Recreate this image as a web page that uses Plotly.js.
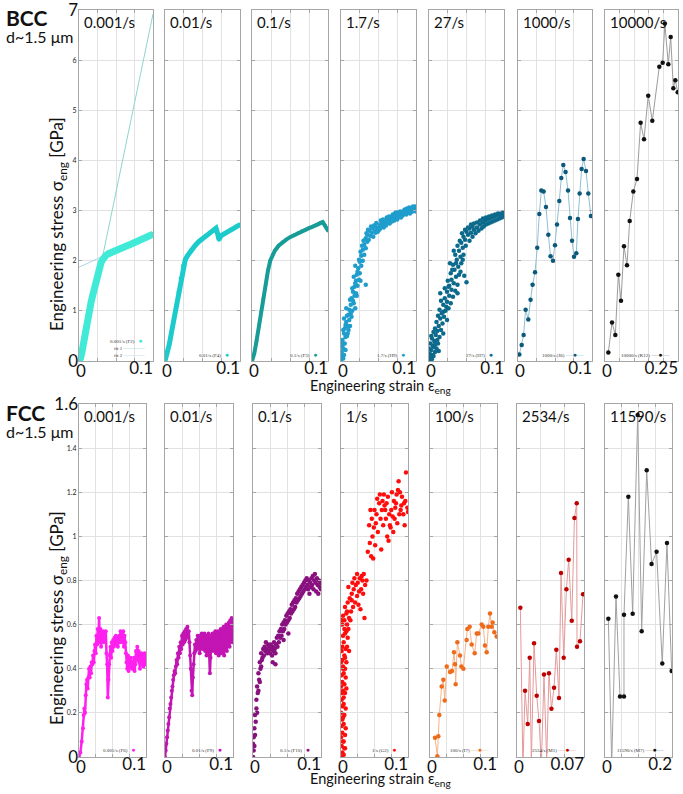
<!DOCTYPE html>
<html><head><meta charset="utf-8">
<script src="https://cdn.plot.ly/plotly-3.0.1.min.js"></script>
<style>html,body{margin:0;padding:0;background:#fff}#chart{width:683px;height:794px}</style>
</head><body><div id="chart"></div>
<script>
// ---------------- labels ----------------
const topRates = ['0.001/s','0.01/s','0.1/s','1.7/s','27/s','1000/s','10000/s'];
const topSamples = ['0.001/s (F2)','0.01/s (F4)','0.1/s (F3)','1.7/s (H9)','27/s (H7)','1000/s (J6)','10000/s (K12)'];
const botRates = ['0.001/s','0.01/s','0.1/s','1/s','100/s','2534/s','11590/s'];
const botSamples = ['0.001/s (F6)','0.01/s (F9)','0.1/s (F10)','1/s (G2)','100/s (I7)','2534/s (M1)','11590/s (M7)'];
const fitLabels = ['fit 1','fit 2'];
const gridTenth = [0,0.025,0.05,0.075,0.1];
const gridQuarter = [0,0.05,0.1,0.15,0.2,0.25];
const gridSeven = [0,0.025,0.05,0.07];
const gridFifth = [0,0.05,0.1,0.15,0.2];
const topXGrid = [gridTenth,gridTenth,gridTenth,gridTenth,gridTenth,gridTenth,gridQuarter];
const botXGrid = [gridTenth,gridTenth,gridTenth,gridTenth,gridTenth,gridSeven,gridFifth];
const topXLabel = ['0.1','0.1','0.1','0.1','0.1','0.1','0.25'];
const botXLabel = ['0.1','0.1','0.1','0.1','0.1','0.07','0.2'];
const topYTicks = [0,1,2,3,4,5,6,7];
const topYText = ['','1','2','3','4','5','6',''];
const botYTicks = [0,0.2,0.4,0.6,0.8,1,1.2,1.4,1.6];
const botYText = ['','0.2','0.4','0.6','0.8','1','1.2','1.4',''];
const topYEnds = [0,7], topYEndText = ['0','7'];
const botYEnds = [0,1.6], botYEndText = ['0','1.6'];

// ---------------- BCC data ----------------
const bcc0001X = [0,0.002,0.004,0.006,0.008,0.010,0.012,0.014,0.016,0.018,0.020,0.022,0.024,0.026,0.028,0.030,0.032,0.034,0.036,0.040,0.045,0.050,0.055,0.060,0.065,0.070,0.075,0.080,0.085,0.090,0.095,0.100];
const bcc0001Y = [0,0.05,0.18,0.38,0.58,0.75,0.90,1.02,1.15,1.28,1.42,1.55,1.68,1.80,1.90,1.97,2.02,2.07,2.10,2.14,2.18,2.21,2.24,2.27,2.30,2.33,2.36,2.39,2.42,2.45,2.49,2.53];
const fit1X = [0.032,0.1];
const fit1Y = [2.09,6.92];
const fit2X = [0,0.06];
const fit2Y = [1.87,2.28];
const bcc001X = [0,0.003,0.006,0.009,0.012,0.015,0.018,0.021,0.024,0.027,0.030,0.035,0.040,0.045,0.050,0.055,0.060,0.065,0.068,0.070,0.072,0.075,0.080,0.085,0.090,0.095,0.100];
const bcc001Y = [0,0.15,0.35,0.60,0.85,1.10,1.38,1.65,1.90,2.02,2.10,2.22,2.30,2.38,2.44,2.50,2.55,2.60,2.65,2.55,2.42,2.50,2.55,2.60,2.63,2.68,2.72];
const bcc01X = [0,0.003,0.006,0.009,0.012,0.015,0.018,0.021,0.024,0.027,0.030,0.035,0.040,0.045,0.050,0.055,0.060,0.065,0.070,0.075,0.080,0.085,0.090,0.093,0.096,0.100];
const bcc01Y = [0,0.15,0.40,0.70,0.98,1.25,1.52,1.80,2.00,2.12,2.20,2.30,2.37,2.42,2.47,2.51,2.55,2.59,2.62,2.65,2.68,2.71,2.76,2.77,2.70,2.60];
const bcc1p7Pts = [[0.000,0.03],[0.002,0.10],[0.001,0.18],[0.004,0.12],[0.003,0.25],[0.000,0.30],[0.005,0.35],[0.002,0.42],[0.006,0.48],[0.004,0.55],[0.008,0.50],[0.005,0.65],[0.009,0.70],[0.007,0.78],[0.011,0.82],[0.008,0.90],[0.013,0.95],[0.011,1.02],[0.015,1.00],[0.013,1.12],[0.017,1.15],[0.014,1.25],[0.018,1.30],[0.016,1.38],[0.020,1.35],[0.018,1.48],[0.022,1.50],[0.020,1.60],[0.024,1.62],[0.021,1.72],[0.025,1.75],[0.023,1.85],[0.027,1.90],[0.025,1.98],[0.029,2.00],[0.027,2.10],[0.031,2.12],[0.029,2.22],[0.033,2.25],[0.031,2.32],[0.035,2.38],[0.033,2.45],[0.037,2.42],[0.035,2.52],[0.039,2.50],[0.038,2.60],[0.041,2.56],[0.043,2.48],[0.042,2.65],[0.045,2.60],[0.033,1.52],[0.019,1.05],[0.001,0.08],[0.003,0.05],[0.006,0.22],[0.002,0.32],[0.010,0.62],
[0.046,2.68],[0.048,2.62],[0.047,2.75],[0.050,2.66],[0.049,2.58],[0.052,2.72],[0.051,2.62],[0.054,2.70],[0.053,2.80],[0.056,2.68],[0.055,2.76],[0.058,2.74],[0.057,2.66],[0.060,2.80],[0.059,2.72],[0.062,2.78],[0.061,2.86],[0.064,2.76],[0.063,2.84],[0.066,2.82],[0.065,2.74],[0.068,2.88],[0.067,2.80],[0.070,2.84],[0.069,2.92],[0.072,2.86],[0.071,2.80],[0.074,2.90],[0.073,2.96],[0.076,2.88],[0.075,2.82],[0.078,2.94],[0.077,2.88],[0.080,2.92],[0.079,2.98],[0.082,2.90],[0.081,2.96],[0.084,3.00],[0.083,2.92],[0.086,2.96],[0.085,3.02],[0.088,2.98],[0.087,2.92],[0.090,3.02],[0.089,2.96],[0.092,3.00],[0.091,3.06],[0.094,2.98],[0.093,3.04],[0.096,3.04],[0.095,2.98],[0.098,3.06],[0.097,3.00],[0.100,3.02],[0.099,3.08],
[0.001,0.40],[0.003,0.62],[0.006,0.72],[0.004,0.85],[0.010,0.92],[0.007,1.05],[0.012,1.22],[0.015,1.45],[0.019,1.55],[0.017,1.68],[0.022,1.78],[0.019,1.90],[0.024,2.02],[0.028,2.30],[0.026,2.18],[0.030,2.40],[0.034,2.55],[0.036,2.62],[0.040,2.68],[0.044,2.70],[0.046,2.56],[0.052,2.64],[0.056,2.82],[0.060,2.70],[0.064,2.88],[0.068,2.78],[0.072,2.94],[0.076,2.96],[0.080,2.86],[0.084,2.94],[0.088,3.04],[0.092,2.94],[0.096,3.08],[0.100,2.98],[0.014,0.88],[0.009,0.55],[0.012,0.70],[0.016,1.20],[0.021,1.30],[0.026,1.60]];
const bcc27Pts = [[0.000,0.02],[0.002,0.08],[0.004,0.04],[0.001,0.15],[0.006,0.10],[0.003,0.22],[0.008,0.18],[0.005,0.30],[0.010,0.25],[0.002,0.35],[0.007,0.40],[0.012,0.35],[0.004,0.45],[0.009,0.52],[0.014,0.48],[0.011,0.60],[0.006,0.58],[0.016,0.62],[0.013,0.70],[0.018,0.75],[0.010,0.78],[0.015,0.85],[0.020,0.88],[0.024,0.82],[0.017,0.95],[0.022,1.00],[0.014,1.02],[0.026,1.05],[0.019,1.12],[0.024,1.18],[0.029,1.15],[0.021,1.25],[0.027,1.30],[0.032,1.28],[0.024,1.38],[0.030,1.42],[0.035,1.40],[0.027,1.50],[0.033,1.55],[0.038,1.52],[0.030,1.62],[0.036,1.68],[0.029,1.75],[0.040,1.72],[0.034,1.82],[0.039,1.88],[0.032,1.92],[0.043,1.95],[0.037,2.02],[0.042,2.08],[0.035,2.12],[0.046,2.12],[0.040,2.20],[0.045,2.26],[0.038,2.30],[0.049,2.30],[0.043,2.36],[0.048,2.42],[0.054,2.40],[0.046,2.48],[0.052,2.52],[0.058,2.48],[0.050,2.58],[0.056,2.56],[0.062,2.55],[0.054,2.64],[0.060,2.62],[0.066,2.60],[0.058,2.68],[0.064,2.66],[0.070,2.64],[0.068,2.72],[0.073,2.68],[0.072,2.76],[0.076,2.72],[0.075,2.80],[0.079,2.74],[0.078,2.82],[0.082,2.76],[0.081,2.84],[0.085,2.78],[0.084,2.86],[0.088,2.80],[0.087,2.88],[0.091,2.82],[0.090,2.90],[0.094,2.84],[0.093,2.92],[0.097,2.86],[0.096,2.94],[0.100,2.88],[0.099,2.96],[0.015,1.35],[0.050,1.57],[0.047,1.70],[0.019,0.55],[0.001,0.05],[0.005,0.12],[0.008,0.33],[0.003,0.10],
[0.003,0.50],[0.008,0.65],[0.012,0.90],[0.019,0.98],[0.016,1.20],[0.021,1.45],[0.025,1.60],[0.031,1.82],[0.028,1.95],[0.036,1.95],[0.033,2.20],[0.041,2.40],[0.044,2.55],[0.048,2.62],[0.052,2.66],[0.056,2.72],[0.060,2.74],[0.064,2.76],[0.068,2.80],[0.072,2.84],[0.076,2.86],[0.080,2.88],[0.084,2.90],[0.088,2.92],[0.092,2.94],[0.096,2.90],[0.100,2.95],[0.023,1.08],[0.038,1.35],[0.011,0.42],[0.007,0.28],[0.013,0.20],[0.000,0.25],[0.026,1.48],[0.042,1.78],[0.045,2.02]];
const bcc1000X = [0.0018,0.005,0.0076,0.0103,0.0139,0.017,0.0197,0.023,0.026,0.0288,0.0315,0.0346,0.0378,0.041,0.044,0.0473,0.050,0.0527,0.0558,0.0585,0.0612,0.0643,0.0676,0.0703,0.073,0.0757,0.0788,0.081,0.0833,0.086,0.0887,0.0919,0.095,0.0986];
const bcc1000Y = [0.13,0.32,0.52,1.02,0.83,1.22,1.52,1.77,2.26,2.93,3.40,3.38,3.07,2.52,2.09,2.00,2.31,2.72,3.19,3.65,3.91,3.77,3.40,2.85,2.40,2.08,2.15,2.83,3.34,3.83,4.03,3.79,3.34,2.89];
const bcc10000X = [0.0114,0.024,0.0354,0.0457,0.0548,0.065,0.0753,0.0845,0.097,0.1096,0.122,0.1336,0.148,0.162,0.186,0.1975,0.205,0.2168,0.225,0.234,0.2408,0.249];
const bcc10000Y = [0.17,0.77,0.52,1.72,1.20,2.29,1.91,2.79,3.38,3.63,4.75,4.42,5.29,4.79,5.87,5.95,6.73,5.92,6.46,5.44,5.60,5.36];

// ---------------- FCC data ----------------
const fcc0001Pts = [[0.000,0.00],[0.002,0.02],[0.004,0.07],[0.006,0.13],[0.007,0.19],[0.008,0.22],[0.009,0.20],[0.010,0.28],[0.011,0.33],[0.012,0.35],[0.013,0.31],[0.014,0.36],[0.015,0.40],[0.016,0.36],[0.017,0.41],[0.018,0.38],[0.019,0.43],[0.020,0.42],[0.021,0.46],[0.022,0.43],[0.023,0.48],[0.024,0.51],[0.025,0.47],[0.026,0.55],[0.027,0.51],[0.028,0.58],[0.029,0.54],[0.030,0.63],[0.031,0.52],[0.032,0.58],[0.033,0.50],[0.034,0.56],[0.035,0.53],[0.036,0.57],[0.037,0.52],[0.038,0.56],[0.039,0.54],[0.040,0.57],[0.041,0.47],[0.042,0.42],[0.043,0.27],[0.044,0.35],[0.045,0.42],[0.046,0.46],[0.047,0.50],[0.048,0.45],[0.049,0.52],[0.050,0.48],[0.051,0.53],[0.052,0.50],[0.053,0.54],[0.054,0.51],[0.055,0.55],[0.056,0.52],[0.057,0.54],[0.058,0.50],[0.059,0.53],[0.060,0.55],[0.061,0.52],[0.062,0.57],[0.063,0.53],[0.064,0.56],[0.065,0.52],[0.066,0.57],[0.067,0.50],[0.068,0.55],[0.069,0.52],[0.070,0.47],[0.071,0.43],[0.072,0.40],[0.073,0.46],[0.074,0.39],[0.075,0.44],[0.076,0.41],[0.077,0.45],[0.078,0.42],[0.079,0.40],[0.080,0.43],[0.081,0.40],[0.082,0.45],[0.083,0.39],[0.084,0.42],[0.085,0.48],[0.086,0.44],[0.087,0.50],[0.088,0.45],[0.089,0.48],[0.090,0.43],[0.091,0.40],[0.092,0.45],[0.093,0.47],[0.094,0.42],[0.095,0.46],[0.096,0.41],[0.097,0.44],[0.098,0.47],[0.099,0.42],[0.100,0.45]];
const fcc001Pts = [[0.000,0.00],[0.001,0.03],[0.002,0.06],[0.003,0.09],[0.004,0.12],[0.005,0.15],[0.006,0.18],[0.007,0.22],[0.008,0.24],[0.009,0.27],[0.010,0.30],[0.011,0.32],[0.012,0.35],[0.013,0.37],[0.014,0.39],[0.015,0.38],[0.016,0.41],[0.017,0.44],[0.018,0.42],[0.019,0.47],[0.020,0.45],[0.021,0.50],[0.022,0.47],[0.023,0.52],[0.024,0.49],[0.025,0.55],[0.026,0.51],[0.027,0.56],[0.028,0.52],[0.029,0.57],[0.030,0.53],[0.031,0.58],[0.032,0.54],[0.033,0.59],[0.034,0.55],[0.035,0.57],[0.036,0.52],[0.037,0.46],[0.038,0.40],[0.039,0.30],[0.040,0.28],[0.041,0.36],[0.042,0.42],[0.043,0.47],[0.044,0.51],[0.045,0.48],[0.046,0.53],[0.047,0.49],[0.048,0.55],[0.049,0.50],[0.050,0.54],[0.051,0.47],[0.052,0.55],[0.053,0.51],[0.054,0.56],[0.055,0.49],[0.056,0.55],[0.057,0.50],[0.058,0.56],[0.059,0.48],[0.060,0.55],[0.061,0.46],[0.062,0.54],[0.063,0.50],[0.064,0.56],[0.065,0.47],[0.066,0.38],[0.067,0.45],[0.068,0.55],[0.069,0.49],[0.070,0.56],[0.071,0.48],[0.072,0.55],[0.073,0.51],[0.074,0.57],[0.075,0.47],[0.076,0.55],[0.077,0.50],[0.078,0.57],[0.079,0.46],[0.080,0.56],[0.081,0.49],[0.082,0.58],[0.083,0.47],[0.084,0.57],[0.085,0.50],[0.086,0.59],[0.087,0.46],[0.088,0.58],[0.089,0.52],[0.090,0.60],[0.091,0.48],[0.092,0.59],[0.093,0.53],[0.094,0.61],[0.095,0.50],[0.096,0.62],[0.097,0.55],[0.098,0.63],[0.099,0.52],[0.100,0.60]];
const fcc01Pts = [[0.000,0.00],[0.001,0.03],[0.000,0.06],[0.002,0.05],[0.001,0.09],[0.003,0.10],[0.002,0.13],[0.004,0.16],[0.003,0.19],[0.005,0.22],[0.006,0.20],[0.005,0.26],[0.007,0.29],[0.006,0.32],[0.008,0.30],[0.009,0.35],[0.008,0.38],[0.010,0.34],[0.011,0.40],[0.010,0.43],[0.012,0.41],[0.013,0.44],[0.012,0.47],[0.014,0.45],[0.015,0.49],[0.016,0.46],[0.017,0.50],[0.018,0.48],[0.019,0.52],[0.020,0.49],[0.021,0.47],[0.022,0.51],[0.023,0.48],[0.024,0.50],[0.025,0.47],[0.026,0.51],[0.027,0.49],[0.028,0.46],[0.029,0.50],[0.030,0.48],[0.031,0.52],[0.032,0.49],[0.033,0.47],[0.034,0.51],[0.035,0.54],[0.036,0.50],[0.037,0.55],[0.038,0.52],[0.039,0.57],[0.040,0.54],[0.041,0.58],[0.042,0.55],[0.043,0.60],[0.044,0.57],[0.045,0.61],[0.046,0.58],[0.047,0.62],[0.048,0.60],[0.049,0.64],[0.050,0.61],[0.051,0.65],[0.052,0.62],[0.053,0.66],[0.054,0.63],[0.055,0.67],[0.056,0.65],[0.057,0.69],[0.058,0.66],[0.059,0.70],[0.060,0.67],[0.061,0.71],[0.062,0.68],[0.063,0.72],[0.064,0.70],[0.065,0.74],[0.066,0.71],[0.067,0.75],[0.068,0.72],[0.069,0.76],[0.070,0.73],[0.071,0.77],[0.072,0.74],[0.073,0.78],[0.074,0.75],[0.075,0.79],[0.076,0.76],[0.077,0.80],[0.078,0.77],[0.079,0.81],[0.080,0.78],[0.081,0.76],[0.082,0.80],[0.083,0.74],[0.084,0.79],[0.085,0.77],[0.086,0.81],[0.087,0.78],[0.088,0.82],[0.089,0.76],[0.090,0.80],[0.091,0.83],[0.092,0.79],[0.093,0.75],[0.094,0.81],[0.095,0.78],[0.096,0.74],[0.097,0.80],[0.098,0.77],[0.099,0.79],[0.100,0.76],[0.033,0.42],[0.029,0.43],[0.052,0.56],[0.045,0.53]];
const fcc1Pts = [[0.000,0.00],[0.002,0.02],[0.004,0.01],[0.001,0.05],[0.003,0.07],[0.005,0.04],[0.000,0.09],[0.002,0.11],[0.006,0.10],[0.001,0.14],[0.004,0.15],[0.003,0.18],[0.000,0.20],[0.005,0.19],[0.002,0.23],[0.007,0.22],[0.001,0.26],[0.004,0.27],[0.003,0.30],[0.006,0.29],[0.000,0.32],[0.002,0.34],[0.005,0.33],[0.008,0.31],[0.001,0.37],[0.004,0.38],[0.003,0.41],[0.006,0.40],[0.002,0.44],[0.008,0.43],[0.005,0.46],[0.001,0.48],[0.007,0.49],[0.004,0.52],[0.009,0.50],[0.003,0.55],[0.006,0.56],[0.010,0.54],[0.002,0.60],[0.005,0.62],[0.009,0.60],[0.004,0.07],[0.007,0.13],[0.001,0.29],[0.006,0.04],[0.003,0.40],[0.012,0.48],
[0.000,0.43],[0.002,0.50],[0.005,0.58],[0.003,0.64],[0.007,0.36],[0.001,0.62],[0.008,0.57],[0.004,0.24],[0.006,0.45],[0.002,0.17],[0.011,0.58],[0.009,0.66],
[0.008,0.65],[0.012,0.63],[0.006,0.68],[0.015,0.66],[0.010,0.70],[0.018,0.68],[0.013,0.72],[0.021,0.70],[0.016,0.74],[0.024,0.73],[0.019,0.76],[0.027,0.75],[0.022,0.78],[0.030,0.76],[0.025,0.79],[0.033,0.74],[0.028,0.81],[0.036,0.78],[0.031,0.82],[0.020,0.81],[0.034,0.83],[0.024,0.83],[0.029,0.67],[0.035,0.63],[0.017,0.79],[0.038,0.80],[0.014,0.62],[0.011,0.77],[0.016,0.71],[0.026,0.69],[0.032,0.80],
[0.040,0.93],[0.043,0.97],[0.045,0.91],[0.047,1.00],[0.042,1.05],[0.049,1.04],[0.051,0.96],[0.046,1.08],[0.053,1.10],[0.055,1.02],[0.050,1.12],[0.057,1.15],[0.059,1.08],[0.054,1.17],[0.061,1.12],[0.063,1.05],[0.058,1.19],[0.065,1.14],[0.067,1.08],[0.062,1.16],[0.069,1.00],[0.071,0.98],[0.066,1.12],[0.073,1.05],[0.075,1.12],[0.070,1.18],[0.077,1.09],[0.079,1.16],[0.074,1.04],[0.081,1.13],[0.083,1.19],[0.078,1.02],[0.085,1.21],[0.087,1.10],[0.082,1.15],[0.089,1.12],[0.091,1.18],[0.086,1.25],[0.093,1.10],[0.095,1.05],[0.090,1.14],[0.097,1.29],[0.099,1.13],[0.094,1.15],[0.100,1.11],[0.048,0.90],[0.060,0.94],[0.044,1.12],
[0.052,1.06],[0.064,1.19],[0.072,1.10],[0.080,1.08],[0.088,1.20],[0.096,1.16],[0.084,1.06],[0.076,1.20],[0.068,1.15]];
const fcc100X = [0.0075,0.011,0.0124,0.0139,0.0174,0.0199,0.022,0.025,0.030,0.0328,0.0358,0.0373,0.0383,0.0408,0.0448,0.0468,0.0498,0.0547,0.0557,0.0592,0.0622,0.0667,0.0697,0.0722,0.0771,0.0796,0.082,0.0846,0.087,0.0896,0.092,0.0935,0.096,0.0995];
const fcc100Y = [0.087,0.003,0.094,0.19,0.32,0.35,0.256,0.41,0.385,0.39,0.475,0.42,0.33,0.52,0.46,0.41,0.40,0.53,0.58,0.59,0.51,0.47,0.56,0.56,0.60,0.59,0.505,0.475,0.59,0.65,0.59,0.61,0.565,0.546];
const fcc2534X = [0.0035,0.0062,0.0084,0.0112,0.0133,0.015,0.0178,0.0206,0.023,0.0255,0.0282,0.031,0.0334,0.036,0.0387,0.0411,0.0439,0.046,0.0488,0.0516,0.054,0.0572,0.060,0.0624,0.0627,0.0658,0.069];
const fcc2534Y = [0.676,-0.05,0.30,0.15,0.45,-0.02,0.516,0.278,0.163,-0.03,0.374,-0.02,0.38,0.219,0.314,0.486,0.267,0.834,0.45,0.76,0.894,0.618,1.083,1.15,0.50,0.525,0.738];
const fcc11590X = [0.010,0.020,0.0328,0.0448,0.0567,0.0567,0.0697,0.0826,0.0975,0.1095,0.1245,0.139,0.154,0.171,0.185,0.199];
const fcc11590Y = [0.627,-0.03,0.728,0.274,0.274,0.645,1.18,0.649,1.55,0.57,1.30,0.875,0.93,0.424,0.97,0.39];

// ---------------- build ----------------
const W = 683, H = 794;
const topX = [[79,153],[165,240],[252,328],[341,416],[429,504],[518,592],[605,678]];
const botX = [[79,146],[165,233],[253,321],[341,408],[430,497],[517,584],[605,672]];
const topY = [10,361], botY = [404,757];
const FONT = 'Lato, "Open Sans", sans-serif';

const xs = p => p / W, ys = p => 1 - p / H;
const split = pts => [pts.map(p => p[0]), pts.map(p => p[1])];

const layout = {width:W,height:H,margin:{l:0,r:0,t:0,b:0},paper_bgcolor:'#fff',plot_bgcolor:'#fff',
  showlegend:false,font:{family:FONT,color:'#111'},annotations:[]};
const traces = [];
const XTICKFONT = {size:17,family:FONT,color:'#111'};

for (let r=0;r<2;r++) for (let i=0;i<7;i++){
  const k = r*7+i+1, sfx = k===1?'':String(k);
  const [x0,x1] = (r?botX:topX)[i];
  const [yt,yb] = r?botY:topY;
  const grid = (r?botXGrid:topXGrid)[i];
  const xmax = grid[grid.length-1];
  const lab = (r?botXLabel:topXLabel)[i];
  const common = {showgrid:true,gridcolor:'#e2e2e2',gridwidth:1,zeroline:false,showline:true,linecolor:'#a6a6a6',
    linewidth:1,mirror:'ticks',ticks:'inside',ticklen:3,tickcolor:'#a6a6a6',fixedrange:true,tickmode:'array',ticklabeloverflow:'allow'};
  layout['xaxis'+sfx] = Object.assign({},common,{domain:[xs(x0),xs(x1)],anchor:'y'+sfx,range:[0,xmax],
    tickvals:grid,ticktext:grid.map((v,j)=> j===0?'0':''),ticklabelshift:2,ticklabelstandoff:-5,tickfont:XTICKFONT});
  // overlay x axis holding the right-hand label, right-aligned to the panel edge
  const ok = 20+k;
  layout['xaxis'+ok] = {overlaying:'x'+sfx,anchor:'y'+sfx,side:'bottom',range:[0,xmax],tickmode:'array',tickvals:[xmax],ticktext:[lab],
    ticklabelposition:'outside left',ticklabelstandoff:-5,ticklabeloverflow:'allow',showgrid:false,zeroline:false,showline:false,ticks:'',
    fixedrange:true,tickfont:XTICKFONT};
  traces.push({type:'scatter',x:[],y:[],xaxis:'x'+ok,yaxis:'y'+sfx,mode:'markers',hoverinfo:'skip'});
  const yt_ = r?botYTicks:topYTicks;
  layout['yaxis'+sfx] = Object.assign({},common,{domain:[ys(yb),ys(yt)],anchor:'x'+sfx,range:[0,yt_[yt_.length-1]],
    tickvals:yt_,ticktext:r?botYText:topYText,
    showticklabels:i===0,tickfont:{size:7,family:FONT,color:'#222'}});
  layout.annotations.push({xref:'paper',yref:'paper',x:xs(x0+3),y:ys(yt+1),xanchor:'left',yanchor:'top',
    text:(r?botRates:topRates)[i],showarrow:false,font:{size:15,family:FONT,color:'#111'}});
}
// overlay y axes carrying the large end labels (0 / 7 and 0 / 1.6)
[[1,15,topYEnds,topYEndText],[8,16,botYEnds,botYEndText]].forEach(([base,k,vals,txt])=>{
  const bs = base===1?'':String(base);
  layout['yaxis'+k] = {overlaying:'y'+bs,anchor:'x'+bs,side:'left',range:[0,vals[1]],tickmode:'array',tickvals:vals,ticktext:txt,
    showgrid:false,zeroline:false,showline:false,ticks:'',fixedrange:true,ticklabeloverflow:'allow',tickfont:{size:17,family:FONT,color:'#111'}};
  traces.push({type:'scatter',x:[],y:[],xaxis:'x'+bs,yaxis:'y'+k,mode:'markers',hoverinfo:'skip'});
});

function add(k, x, y, o){
  const sfx = k===1?'':String(k);
  const t = {type:'scatter',x:x,y:y,xaxis:'x'+sfx,yaxis:'y'+sfx,mode:o.mode,hoverinfo:'skip'};
  if (o.mode.includes('lines')) t.line = {color:o.lc,width:o.lw};
  if (o.mode.includes('markers')) t.marker = {color:o.mc,size:o.ms,symbol:'circle'};
  traces.push(t);
}
// BCC
add(1, fit1X, fit1Y, {mode:'lines',lc:'#8cd6cc',lw:1});
add(1, fit2X, fit2Y, {mode:'lines',lc:'#a9d3e6',lw:1});
add(1, bcc0001X, bcc0001Y, {mode:'lines+markers',lc:'#40ead6',lw:7,mc:'#40ead6',ms:5});
add(2, bcc001X, bcc001Y, {mode:'lines+markers',lc:'#1ccbcb',lw:5,mc:'#1ccbcb',ms:4});
add(3, bcc01X, bcc01Y, {mode:'lines+markers',lc:'#179c98',lw:4,mc:'#179c98',ms:3.5});
add(4, ...split(bcc1p7Pts), {mode:'markers',mc:'#1f9dcc',ms:4.5});
add(5, ...split(bcc27Pts), {mode:'markers',mc:'#0c6a8c',ms:4.5});
add(6, bcc1000X, bcc1000Y, {mode:'lines+markers',lc:'#8fc0d4',lw:1,mc:'#0b587a',ms:4.5});
add(7, bcc10000X, bcc10000Y, {mode:'lines+markers',lc:'#9c9c9c',lw:1,mc:'#111',ms:4.5});
// FCC
add(8, ...split(fcc0001Pts), {mode:'lines+markers',lc:'#ff20ef',lw:2.5,mc:'#ff20ef',ms:4});
add(9, ...split(fcc001Pts), {mode:'lines+markers',lc:'#c315b3',lw:2.5,mc:'#c315b3',ms:4});
add(10, ...split(fcc01Pts), {mode:'markers',mc:'#89117f',ms:4.5});
add(11, ...split(fcc1Pts), {mode:'markers',mc:'#ff0d0d',ms:4.5});
add(12, fcc100X, fcc100Y, {mode:'lines+markers',lc:'#f5b48a',lw:1,mc:'#ee6b1c',ms:4.5});
add(13, fcc2534X, fcc2534Y, {mode:'lines+markers',lc:'#e59a9a',lw:1,mc:'#be0000',ms:4.5});
add(14, fcc11590X, fcc11590Y, {mode:'lines+markers',lc:'#a0a0a0',lw:1,mc:'#111',ms:4.5});

// legends (small text inside panels)
const legColTop = [['#40ead6',null],['#1ccbcb',null],['#179c98',null],['#1f9dcc',null],['#0c6a8c',null],['#0b587a','#8fc0d4'],['#111','#9c9c9c']];
const legColBot = [['#ff20ef',null],['#c315b3',null],['#89117f',null],['#ff0d0d',null],['#ee6b1c','#f5b48a'],['#be0000','#e59a9a'],['#111','#a0a0a0']];
const LEGFONT = {size:5,family:'"Liberation Serif", serif',color:'#333'};
function legText(name, mc, lc){
  if (lc) return name+' <span style="color:'+lc+';font-size:7px">—</span><span style="color:'+mc+';font-size:7px">●</span><span style="color:'+lc+';font-size:7px">—</span>';
  return name+'\u00a0\u00a0\u00a0<span style="color:'+mc+';font-size:7px">●</span>';
}
for (let r=0;r<2;r++) for (let i=0;i<7;i++){
  const [x0,x1] = (r?botX:topX)[i];
  const cols = (r?legColBot:legColTop)[i];
  const yc = r?750:(i===0?341:355);
  layout.annotations.push({xref:'paper',yref:'paper',x:xs(x1-(cols[1]?5:9)),y:ys(yc),xanchor:'right',yanchor:'middle',
    text:legText((r?botSamples:topSamples)[i],cols[0],cols[1]),showarrow:false,font:LEGFONT});
}
layout.annotations.push({xref:'paper',yref:'paper',x:xs(147),y:ys(348),xanchor:'right',yanchor:'middle',
  text:fitLabels[0]+' <span style="color:#8cd6cc;font-size:7px">———</span>',showarrow:false,font:LEGFONT});
layout.annotations.push({xref:'paper',yref:'paper',x:xs(147),y:ys(355),xanchor:'right',yanchor:'middle',
  text:fitLabels[1]+' <span style="color:#a9d3e6;font-size:7px">———</span>',showarrow:false,font:LEGFONT});

// group labels and axis titles
const groups = [['BCC',3],['FCC',398]];
groups.forEach(([g,y0])=>{
  layout.annotations.push({xref:'paper',yref:'paper',x:xs(4),y:ys(y0),xanchor:'left',yanchor:'top',text:'<b>'+g+'</b>',
    showarrow:false,font:{size:21,family:FONT,color:'#111'}});
  layout.annotations.push({xref:'paper',yref:'paper',x:xs(4),y:ys(y0+22),xanchor:'left',yanchor:'top',text:'d~1.5 μm',
    showarrow:false,font:{size:16,family:FONT,color:'#111'}});
});
[224,618].forEach(yc=>{
  layout.annotations.push({xref:'paper',yref:'paper',x:xs(58),y:ys(yc),xanchor:'center',yanchor:'middle',textangle:-90,
    text:'Engineering stress σ<sub>eng</sub> [GPa]',showarrow:false,font:{size:17,family:FONT,color:'#111'}});
});
[386,779].forEach(yc=>{
  layout.annotations.push({xref:'paper',yref:'paper',x:xs(380),y:ys(yc),xanchor:'center',yanchor:'middle',
    text:'Engineering strain ε<sub>eng</sub>',showarrow:false,font:{size:14.5,family:FONT,color:'#111'}});
});

Plotly.newPlot('chart', traces, layout, {staticPlot:true,displayModeBar:false});
</script></body></html>
